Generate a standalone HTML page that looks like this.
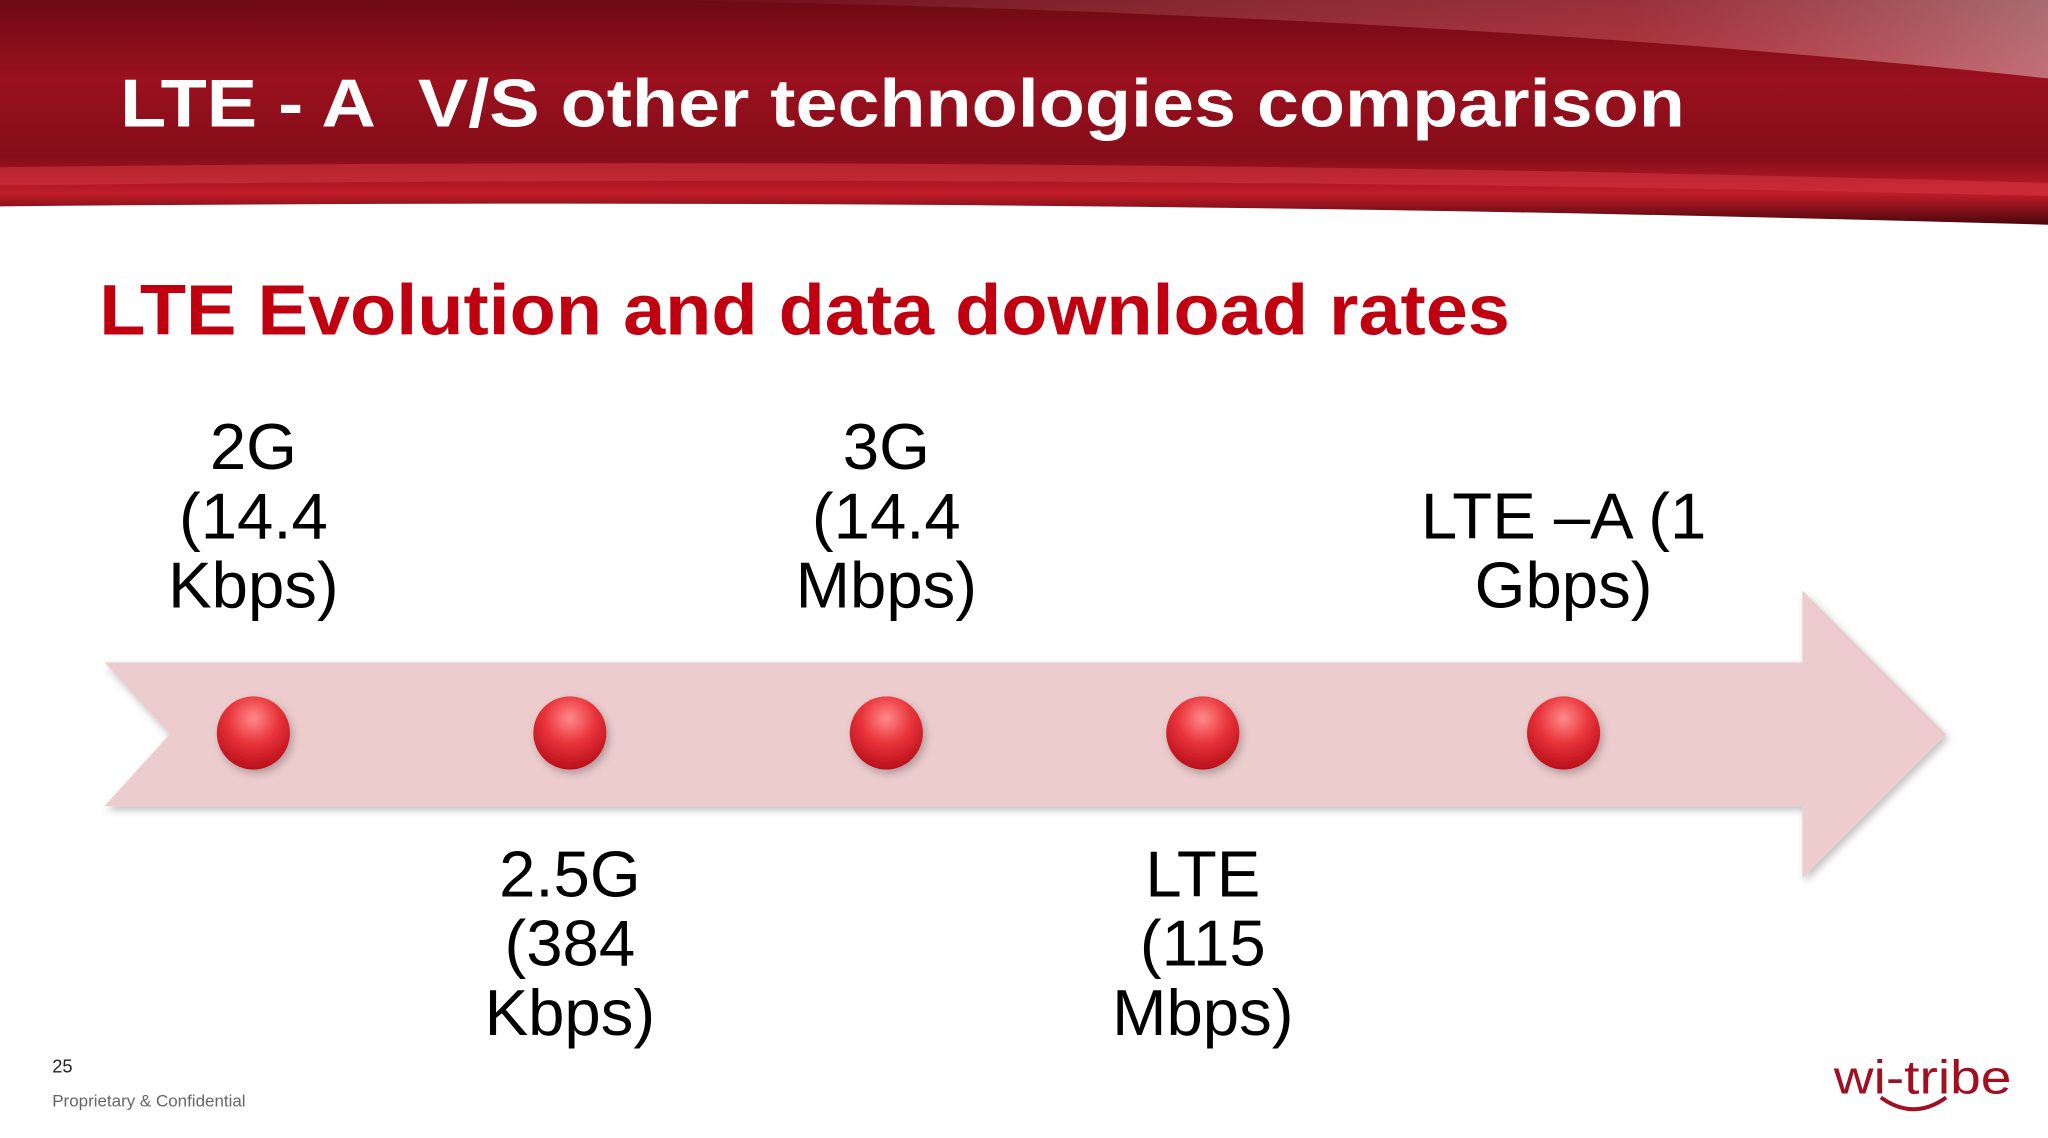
<!DOCTYPE html>
<html><head><meta charset="utf-8"><style>
html,body{margin:0;padding:0;background:#fff}
svg{display:block}
text{font-family:"Liberation Sans",Arial,sans-serif}
</style></head><body>
<svg id="s" width="2048" height="1138" viewBox="0 0 1568 871" preserveAspectRatio="none" xmlns="http://www.w3.org/2000/svg">
<defs>
<linearGradient id="hdr" x1="0" y1="0" x2="0" y2="1">
<stop offset="0" stop-color="#6e0a14"/>
<stop offset="0.35" stop-color="#9a101e"/>
<stop offset="0.7" stop-color="#850d19"/>
<stop offset="0.86" stop-color="#c01c28"/>
<stop offset="1" stop-color="#4a060c"/>
</linearGradient>
<linearGradient id="shine" x1="0" y1="0" x2="1" y2="0">
<stop offset="0" stop-color="#fff" stop-opacity="0"/>
<stop offset="0.7" stop-color="#ff8a90" stop-opacity="0.3"/>
<stop offset="1" stop-color="#fff" stop-opacity="0.4"/>
</linearGradient>
<radialGradient id="dot" cx="0.5" cy="0.3" r="0.7">
<stop offset="0" stop-color="#ff8a8a"/>
<stop offset="0.5" stop-color="#e8333a"/>
<stop offset="1" stop-color="#b80f1a"/>
</radialGradient>
<filter id="sh" x="-10%" y="-10%" width="130%" height="130%"><feDropShadow dx="2" dy="3" stdDeviation="3" flood-color="#000" flood-opacity="0.25"/></filter>
</defs>
<g>
<path d="M0,0 H1568 V172 Q800,150 0,158 Z" fill="url(#hdr)"/>
<path d="M500,0 Q1100,10 1568,60 V0 Z" fill="url(#shine)"/>
<path d="M0,128 Q800,118 1568,140 V150 Q800,132 0,142 Z" fill="#d83a44" opacity="0.5"/>
</g>
<text x="92" y="97" font-size="52" font-weight="bold" fill="#fff" textLength="1198" lengthAdjust="spacingAndGlyphs">LTE - A&#160;&#160;V/S other technologies comparison</text>
<text x="76" y="256" font-size="55" font-weight="bold" fill="#c00010" textLength="1080" lengthAdjust="spacingAndGlyphs">LTE Evolution and data download rates</text>
<path filter="url(#sh)" d="M80,507 H1380 V452 L1490,562 L1380,672 V617 H80 L130,562 Z" fill="#eccccd"/>
<g id="marks"></g>
<text x="40" y="821" font-size="14" fill="#222">25</text>
<text x="40" y="847" font-size="13" fill="#666">Proprietary &amp; Confidential</text>
<g>
<text x="1404" y="837" font-size="36" fill="#a01020" textLength="136" lengthAdjust="spacingAndGlyphs">wi-tribe</text>
<path d="M1440,840 Q1465,858 1490,840" fill="none" stroke="#a01020" stroke-width="3"/>
</g>
</svg>
<script>
const techNames=["2G","2.5G","3G","LTE","LTE –A"];
const techRates=[["(14.4","Kbps)"],["(384","Kbps)"],["(14.4","Mbps)"],["(115","Mbps)"],["(1","Gbps)"]];
const stagePos=[0,1,2,3,4.14];
const above=[true,false,true,false,true];
const NS="http://www.w3.org/2000/svg";
const g=document.getElementById("marks");
const xS=v=>194+v*242.3;
techNames.forEach((n,i)=>{
  const x=xS(stagePos[i]);
  const c=document.createElementNS(NS,"circle");
  c.setAttribute("cx",x);c.setAttribute("cy",561);c.setAttribute("r",28);
  c.setAttribute("fill","url(#dot)");c.setAttribute("filter","url(#sh)");
  
  
  g.appendChild(c);
  let lines;
  if(i===4) lines=[n+" "+techRates[i][0],techRates[i][1]];
  else lines=[n,techRates[i][0],techRates[i][1]];
  const y0=above[i]?(i===4?412:359):686;
  lines.forEach((l,j)=>{
    const t=document.createElementNS(NS,"text");
    t.setAttribute("x",x);t.setAttribute("y",y0+j*53);
    t.setAttribute("font-size","50");t.setAttribute("text-anchor","middle");t.setAttribute("fill","#000");
    t.textContent=l;
    
    
    g.appendChild(t);
  });
});
</script>
</body></html>
